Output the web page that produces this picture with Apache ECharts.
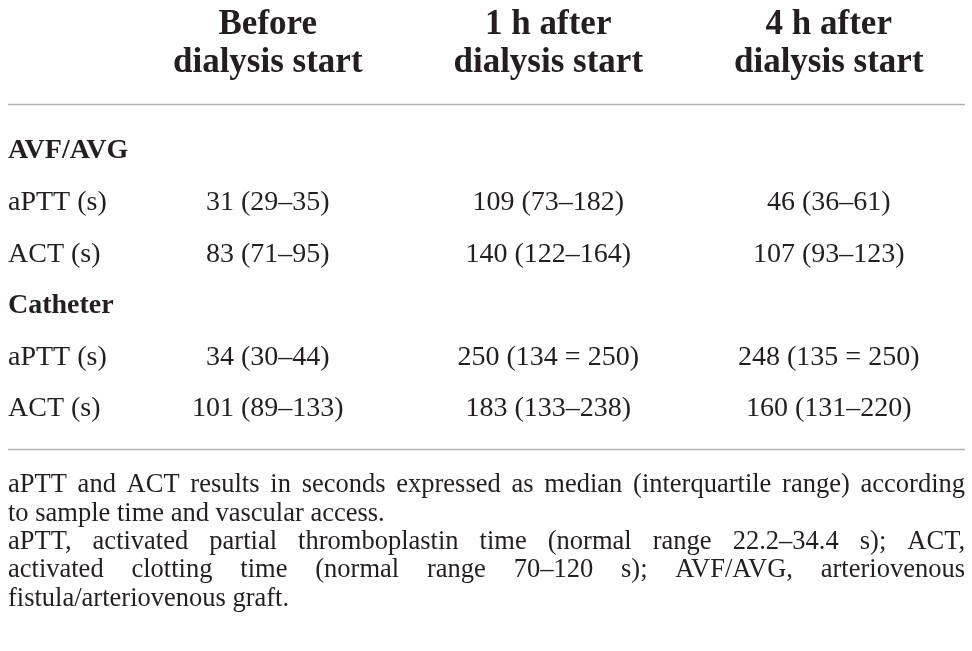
<!DOCTYPE html>
<html>
<head>
<meta charset="utf-8">
<script src="https://cdn.jsdelivr.net/npm/echarts@6/dist/echarts.min.js"></script>
<style>html,body{margin:0;padding:0;background:#fff}#c{width:972px;height:651px}</style>
</head>
<body>
<div id="c"></div>
<script>
// ---- data ----
const columns = ['Before\ndialysis start', '1 h after\ndialysis start', '4 h after\ndialysis start'];
const rowLabels = ['AVF/AVG', 'aPTT (s)', 'ACT (s)', 'Catheter', 'aPTT (s)', 'ACT (s)'];
const groupRows = [0, 3];
const beforeStart = ['', '31 (29–35)', '83 (71–95)', '', '34 (30–44)', '101 (89–133)'];
const after1h = ['', '109 (73–182)', '140 (122–164)', '', '250 (134 = 250)', '183 (133–238)'];
const after4h = ['', '46 (36–61)', '107 (93–123)', '', '248 (135 = 250)', '160 (131–220)'];
const footnoteLines = [
  {text: 'aPTT and ACT results in seconds expressed as median (interquartile range) according', justify: true},
  {text: 'to sample time and vascular access.', justify: false},
  {text: 'aPTT, activated partial thromboplastin time (normal range 22.2–34.4 s); ACT,', justify: true},
  {text: 'activated clotting time (normal range 70–120 s); AVF/AVG, arteriovenous', justify: true},
  {text: 'fistula/arteriovenous graft.', justify: false}
];

// ---- styles ----
const FONT = '"Liberation Serif", "Times New Roman", serif';
const TXT = '#231f20';
const BODY_SIZE = 28, HEAD_SIZE = 35, NOTE_SIZE = 26.5;
const NOTE_LEFT = 8, NOTE_RIGHT = 965;
const noteY = [485, 514, 542, 570, 599];

const valueCols = [beforeStart, after1h, after4h];
const cellData = [];
valueCols.forEach((col, ci) => {
  col.forEach((v, ri) => { if (v) cellData.push([ci, ri, v]); });
});

// footnotes: justified lines laid out by measured word widths
const cv = document.createElement('canvas').getContext('2d');
cv.font = NOTE_SIZE + 'px ' + FONT;
const noteGraphics = [];
footnoteLines.forEach((ln, i) => {
  const y = noteY[i];
  if (!ln.justify) {
    noteGraphics.push({type: 'text', x: NOTE_LEFT, y: y,
      style: {text: ln.text, font: NOTE_SIZE + 'px ' + FONT, fill: TXT, textVerticalAlign: 'middle', textAlign: 'left'}});
    return;
  }
  const words = ln.text.split(' ');
  const widths = words.map(w => cv.measureText(w).width);
  const total = widths.reduce((a, b) => a + b, 0);
  const gap = (NOTE_RIGHT - NOTE_LEFT - total) / (words.length - 1);
  let x = NOTE_LEFT;
  words.forEach((w, k) => {
    noteGraphics.push({type: 'text', x: x, y: y,
      style: {text: w, font: NOTE_SIZE + 'px ' + FONT, fill: TXT, textVerticalAlign: 'middle', textAlign: 'left'}});
    x += widths[k] + gap;
  });
});

const chart = echarts.init(document.getElementById('c'), null, {renderer: 'canvas'});
const gridLeft = 127.5, gridTop = 125.5;
chart.setOption({
  animation: false,
  backgroundColor: '#ffffff',
  grid: {left: gridLeft, right: 3, top: gridTop, bottom: 216.5, containLabel: false},
  xAxis: {
    type: 'category', position: 'top', data: columns, boundaryGap: true,
    axisLine: {show: false}, axisTick: {show: false}, splitLine: {show: false},
    axisLabel: {
      margin: 44, interval: 0, color: TXT, fontFamily: FONT, fontWeight: 'bold',
      fontSize: HEAD_SIZE, lineHeight: 38, align: 'center'
    }
  },
  yAxis: {
    type: 'category', inverse: true, data: rowLabels, boundaryGap: true,
    axisLine: {show: false}, axisTick: {show: false}, splitLine: {show: false},
    axisLabel: {
      margin: gridLeft - 8, align: 'left', interval: 0,
      formatter: (v, idx) => groupRows.indexOf(idx) >= 0 ? '{g|' + v + '}' : '{n|' + v + '}',
      rich: {
        g: {fontFamily: FONT, fontSize: BODY_SIZE, fontWeight: 'bold', color: TXT},
        n: {fontFamily: FONT, fontSize: BODY_SIZE, color: TXT}
      }
    }
  },
  series: [{
    type: 'scatter', symbolSize: 0, data: cellData, silent: true,
    itemStyle: {opacity: 1},
    label: {
      show: true, position: 'inside', formatter: p => p.value[2],
      fontFamily: FONT, fontSize: BODY_SIZE, color: TXT, opacity: 1
    }
  }],
  graphic: [
    {type: 'line', shape: {x1: 8, y1: 104.5, x2: 965, y2: 104.5}, style: {stroke: '#b2b2b2', lineWidth: 1.6}},
    {type: 'line', shape: {x1: 8, y1: 449.5, x2: 965, y2: 449.5}, style: {stroke: '#b2b2b2', lineWidth: 1.6}}
  ].concat(noteGraphics)
});
</script>
</body>
</html>
